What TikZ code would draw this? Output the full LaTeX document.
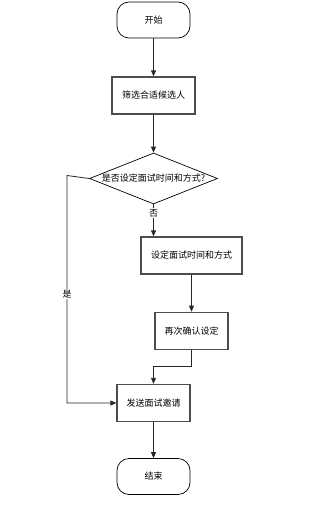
\documentclass[tikz,border=0pt]{standalone}
\usepackage{fontspec}
\setmainfont{Noto Sans CJK SC}
\usepackage{xcolor}
\usepackage{tikz}
\usetikzlibrary{shapes.geometric,arrows.meta,positioning}
\definecolor{boxgray}{HTML}{4D4D4D}
\definecolor{linegray}{HTML}{262626}

\tikzset{
  terminal/.style={draw, line width=0.7pt, rounded corners=12pt, minimum width=73pt, minimum height=36pt, inner sep=0pt, font=\fontsize{9}{11}\selectfont},
  process/.style={draw=boxgray, line width=1.3pt, minimum height=37pt, inner sep=0pt, font=\fontsize{9}{11}\selectfont},
  decision/.style={draw, diamond, line width=0.7pt, minimum width=128pt, minimum height=51pt, inner sep=0pt},
  flow/.style={draw=linegray, line width=0.8pt, -{Triangle[length=6pt,width=5pt]}},
  flowlabel/.style={fill=white, inner sep=1pt, font=\fontsize{9}{11}\selectfont}
}

\begin{document}
\begin{tikzpicture}[x=1pt, y=-1pt]
  \useasboundingbox (0,0) rectangle (331,511);
  % main column
  \node[terminal] (start) at (153.5,20) {开始};
  \node[process, minimum width=83pt, below=38pt of start] (screen) {筛选合适候选人};
  \node[decision, below=38pt of screen] (check) {};
  \node[font=\fontsize{9}{11}\selectfont, inner sep=0pt] (checktext) at (check) {是否设定面试时间和方式?};
  \node[process, minimum width=101pt] (settime) at (191.5,255.5) {设定面试时间和方式};
  \node[process, minimum width=73pt, below=37pt of settime] (confirm) {再次确认设定};
  \node[process, minimum width=73pt] (invite) at (153.5,403) {发送面试邀请};
  \node[terminal, below=36pt of invite] (finish) {结束};
  % bends
  \coordinate (yesturn) at (67,175.5);
  \coordinate (confirmturn) at (191.5,366);

  \draw[flow] (start) -- (screen);
  \draw[flow] (screen) -- (check);
  \draw[flow] (check.south) -- node[flowlabel, pos=0.28] {否} (check.south |- settime.north);
  \draw[flow] (settime) -- (confirm);
  \draw[flow] (confirm.south) -- (confirmturn) -| (invite.north);
  \draw[flow] (check.west) -- (yesturn) |- node[flowlabel, pos=0.26] {是} (invite.west);
  \draw[flow] (invite) -- (finish);
\end{tikzpicture}
\end{document}
